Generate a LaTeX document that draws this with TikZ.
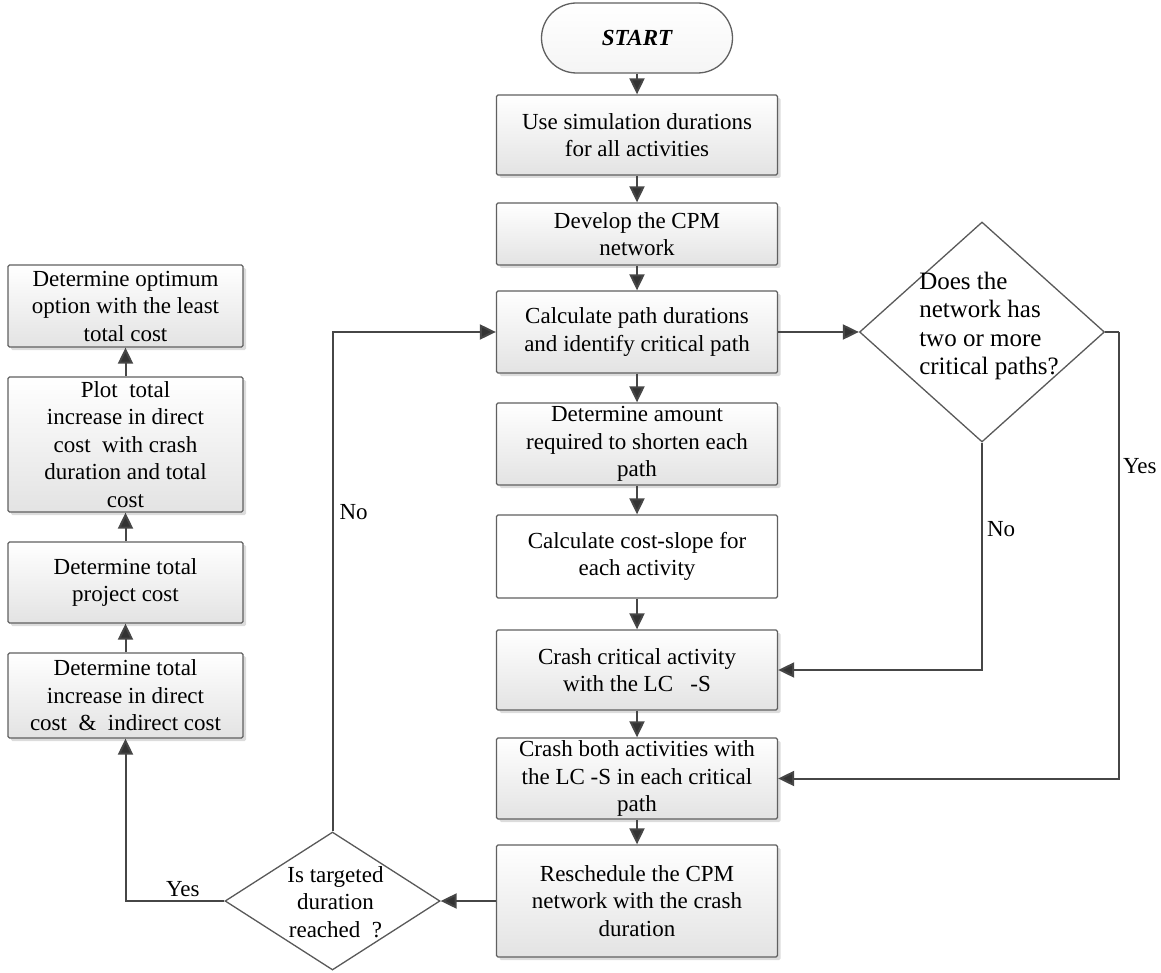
\documentclass[tikz,border=0pt]{standalone}
\usepackage{fontspec}
\setmainfont{Liberation Serif}
\usetikzlibrary{shapes.geometric,arrows.meta,shadows}

\tikzset{
  box/.style={draw=gray!75!black, line width=1.3pt, rounded corners=1.5pt,
    top color=white, bottom color=gray!22,
    drop shadow={shadow xshift=3pt, shadow yshift=-3pt, fill=gray!55},
    minimum width=281pt, inner sep=0pt},
  leftbox/.style={box, minimum width=235pt},
  plainbox/.style={draw=gray!75!black, line width=1.3pt, rounded corners=1.5pt,
    fill=white, minimum width=281pt, inner sep=0pt},
  frage/.style={shape=diamond, draw=gray!70!black, line width=1.3pt, fill=white,
    inner sep=0pt},
  pfeil/.style={draw=gray!55!black, line width=2pt,
    -{Triangle[length=16pt,width=15pt,fill=black!80]}},
  linie/.style={draw=gray!55!black, line width=2pt}
}

\begin{document}
\begin{tikzpicture}[x=1pt, y=-1pt, align=center, font=\fontsize{23}{27.5}\selectfont]
\useasboundingbox (0,0) rectangle (1161,973);

% main column
\node[draw=gray!75!black, line width=1.3pt, rounded corners=35pt, top color=white,
  bottom color=gray!8, minimum width=191pt, minimum height=70pt,
  font=\fontsize{23}{27.5}\selectfont\bfseries\itshape] (start) at (637,38) {START};
\node[box, minimum height=80pt] (b1) at (637,135) {Use simulation durations\\for all activities};
\node[box, minimum height=62pt] (b2) at (637,234) {Develop the CPM\\network};
\node[box, minimum height=82pt] (b3) at (637,332) {Calculate path durations\\and identify critical path};
\node[box, minimum height=82pt] (b4) at (637,444) {Determine amount\\required to shorten each\\path};
\node[plainbox, minimum height=83pt] (b5) at (637,556.5) {Calculate cost-slope for\\each activity};
\node[box, minimum height=80pt] (b6) at (637,670) {Crash critical activity\\with the LC~~~-S};
\node[box, minimum height=81pt] (b7) at (637,778.5) {Crash both activities with\\the LC -S in each critical\\path};
\node[box, minimum height=112pt] (b8) at (637,901) {Reschedule the CPM\\network with the crash\\duration};

% left column
\node[leftbox, minimum height=82pt] (l1) at (125.5,306) {Determine optimum\\option with the least\\total cost};
\node[leftbox, minimum height=135pt] (l2) at (125.5,444.5) {Plot~ total\\increase in direct\\cost~ with crash\\duration and total\\cost};
\node[leftbox, minimum height=81pt] (l3) at (125.5,582.5) {Determine total\\project cost};
\node[leftbox, minimum height=85pt] (l4) at (125.5,695.5) {Determine total\\increase in direct\\cost~ \&~ indirect cost};

% decisions
\node[frage, minimum width=245pt, minimum height=220pt,
  label={[align=left, xshift=7pt, yshift=6pt, font=\fontsize{25}{28.5}\selectfont]center:{Does the\\network has\\two or more\\critical paths?}}] (d1) at (982,332) {};
\node[frage, minimum width=215pt, minimum height=138pt,
  label={[xshift=3pt, yshift=-1pt]center:{Is targeted\\duration\\reached~ ?}}] (d2) at (332.5,901) {};
\coordinate (yesturn) at (1119,332);

% arrows
\draw[pfeil] (start) -- (b1);
\draw[pfeil] (b1) -- (b2);
\draw[pfeil] (b2) -- (b3);
\draw[pfeil] (b3) -- (b4);
\draw[pfeil] (b4) -- (b5);
\draw[pfeil] (b5) -- (b6);
\draw[pfeil] (b6) -- (b7);
\draw[pfeil] (b7) -- (b8);
\draw[pfeil] (b3.east) -- (d1.west);
\draw[pfeil] (d1.south) |- node[pos=0.19, right, inner sep=4pt]{No} (b6.east);
\draw[linie] (d1.east) -- (yesturn);
\draw[pfeil] (yesturn) |- node[pos=0.15, right, inner sep=3pt]{Yes} (b7.east);
\draw[pfeil] (b8.west) -- (d2.east);
\draw[pfeil] (d2.north) |- node[pos=0.32, right, inner sep=6pt]{No} (b3.west);
\draw[pfeil] (d2.west) -| node[pos=0.21, above, inner sep=3pt]{Yes} (l4.south);
\draw[pfeil] (l4) -- (l3);
\draw[pfeil] (l3) -- (l2);
\draw[pfeil] (l2) -- (l1);
\end{tikzpicture}
\end{document}
